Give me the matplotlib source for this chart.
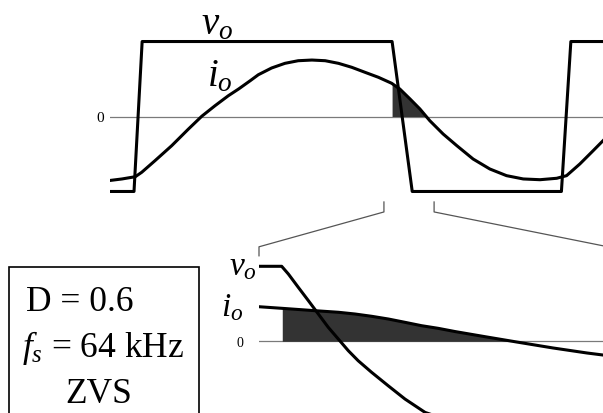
import matplotlib
matplotlib.use("Agg")
import matplotlib.pyplot as plt
import numpy as np
from matplotlib.lines import Line2D
from matplotlib.patches import Rectangle

plt.rcParams["font.family"] = ["Liberation Serif", "DejaVu Serif"]
plt.rcParams["mathtext.fontset"] = "custom"
plt.rcParams["mathtext.rm"] = "Liberation Serif"
plt.rcParams["mathtext.it"] = "Liberation Serif:italic"

# Time is in units of the switching period, amplitudes are normalised to V_dc.
vo_t = [-0.054, 0.002, 0.021, 0.604, 0.651, 0.999, 1.021, 1.096]
vo = [-1, -1, 1, 1, -1, -1, 1, 1]

io_t = [-0.054, -0.026, 0.005, 0.020, 0.051, 0.090, 0.129, 0.160, 0.191, 0.222,
        0.246, 0.273, 0.292, 0.323, 0.354, 0.385, 0.417, 0.448, 0.479, 0.510,
        0.541, 0.572, 0.603, 0.622, 0.646, 0.669, 0.692, 0.723, 0.755, 0.793,
        0.832, 0.871, 0.910, 0.949, 0.988, 1.011, 1.042, 1.073, 1.096]
io = [-0.853, -0.833, -0.803, -0.744, -0.589, -0.389, -0.167, 0.003, 0.144, 0.277,
      0.367, 0.477, 0.557, 0.647, 0.709, 0.744, 0.753, 0.744, 0.709, 0.656,
      0.589, 0.523, 0.443, 0.367, 0.233, 0.100, -0.056, -0.233, -0.389, -0.567,
      -0.700, -0.789, -0.833, -0.843, -0.824, -0.789, -0.633, -0.456, -0.323]

# region of the main plot that is blown up below
zoom_t = (0.585, 0.702)

# detail of the falling edge (same units)
det_window = (0.596, 0.716)
det_vo_t = [0.596, 0.6038, 0.6061, 0.6095, 0.6130, 0.6164, 0.6198, 0.6233,
            0.6267, 0.6301, 0.6347, 0.6404, 0.6462, 0.6531, 0.657, 0.716]
det_vo = [1.0, 1.0, 0.897, 0.72, 0.541, 0.364, 0.187, 0.029,
          -0.125, -0.259, -0.413, -0.592, -0.77, -0.948, -1.0, -1.0]
det_io_t = [0.596, 0.6038, 0.6153, 0.6233, 0.6290, 0.6348, 0.6405, 0.6462,
            0.6519, 0.6576, 0.6634, 0.6744, 0.6847, 0.6971, 0.7088, 0.7143, 0.716]
det_io = [0.461, 0.440, 0.408, 0.387, 0.364, 0.333, 0.297, 0.253,
          0.208, 0.173, 0.130, 0.057, -0.01, -0.089, -0.156, -0.183, -0.19]

t_edge = 0.604   # start of the v_o falling edge
t_zero = 0.684   # current zero crossing after the edge

W, H = 603, 414
fig = plt.figure(figsize=(W / 100, H / 100), dpi=100)

LW = 2.2
GREY = "#7a7a7a"
SHADE = "#333333"


def clean(ax):
    for s in ax.spines.values():
        s.set_visible(False)
    ax.set_xticks([])
    ax.set_yticks([0])
    ax.set_yticklabels(["0"])
    ax.patch.set_alpha(0)


# main waveforms
ax = fig.add_axes([110 / W, (H - 205) / H, 493 / W, 175 / H])
ax.set_xlim(vo_t[0], vo_t[-1])
ax.set_ylim(-1.167, 1.167)
clean(ax)
ax.tick_params(axis="y", length=0, pad=4, labelsize=11)
ax.axhline(0, color=GREY, lw=0.9, zorder=1)
tf = np.linspace(t_edge, t_zero, 60)
ax.fill_between(tf, np.interp(tf, io_t, io), 0, color=SHADE, lw=0, zorder=2)
ax.plot(vo_t, vo, color="black", lw=LW, zorder=3)
ax.plot(io_t, io, color="black", lw=LW, zorder=3)
ax.text(0.196, 1.233, "$v_o$", fontsize=28, ha="center", va="center")
ax.text(0.203, 0.54, "$i_o$", fontsize=28, ha="center", va="center")

# zoomed view of the switching edge
bx = fig.add_axes([259 / W, 0, 349 / W, 159 / H])
bx.set_xlim(*det_window)
bx.set_ylim(-0.956, 1.164)
clean(bx)
bx.tick_params(axis="y", length=0, pad=11, labelsize=10)
bx.axhline(0, color=GREY, lw=0.9, zorder=1)
tf = np.linspace(t_edge, t_zero, 60)
bx.fill_between(tf, np.interp(tf, det_io_t, det_io), 0, color=SHADE, lw=0, zorder=2)
bx.plot(det_vo_t, det_vo, color="black", lw=LW, zorder=3)
bx.plot(det_io_t, det_io, color="black", lw=LW, zorder=3)
bx.text(0.5905, 1.0, "$v_o$", fontsize=24, ha="center", va="center")
bx.text(0.5867, 0.46, "$i_o$", fontsize=24, ha="center", va="center")

# bracket lines linking the two views
to_fig = fig.transFigure.inverted()


def fig_pts(axis, pts):
    return to_fig.transform(axis.transData.transform(pts))


for t_top, t_bot, drop in [(zoom_t[0], det_window[0], True),
                           (zoom_t[1], det_window[1], False)]:
    p = np.vstack([fig_pts(ax, [(t_top, -1.14), (t_top, -1.273)]),
                   fig_pts(bx, [(t_bot, 1.26)] + ([(t_bot, 1.14)] if drop else []))])
    fig.add_artist(Line2D(p[:, 0], p[:, 1], transform=fig.transFigure,
                          color="#555555", lw=0.9))

# operating point box
fig.add_artist(Rectangle((9 / W, -0.05), 190 / W, (H - 268.3) / H + 0.05,
                         transform=fig.transFigure, fill=False,
                         ec="black", lw=1.2))
fig.text(26 / W, (H - 310.7) / H, "D = 0.6", fontsize=25.5, va="baseline")
fig.text(22 / W, (H - 356.7) / H, "$f_s$ = 64 kHz", fontsize=25.5, va="baseline")
fig.text(99 / W, (H - 403) / H, "ZVS", fontsize=25.5, va="baseline", ha="center")

fig.savefig("out.png", dpi=100)
